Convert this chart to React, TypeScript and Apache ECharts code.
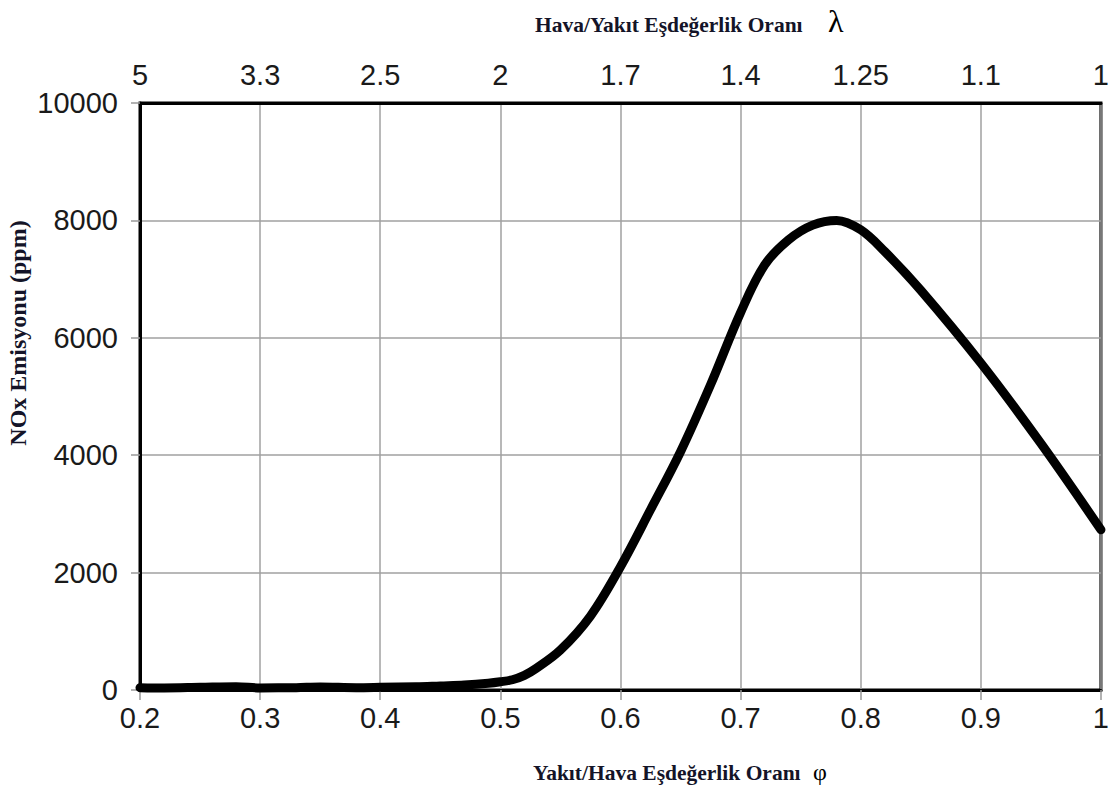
import React, { useEffect, useRef } from "react";
import * as echarts from "echarts";

const phi = [0.2, 0.22, 0.25, 0.28, 0.3, 0.33, 0.35, 0.38, 0.4, 0.43, 0.45, 0.47, 0.49, 0.5, 0.51, 0.52, 0.53, 0.55, 0.575, 0.6, 0.625, 0.65, 0.675, 0.7, 0.72, 0.74, 0.76, 0.78, 0.8, 0.82, 0.85, 0.9, 0.95, 1.0];
const nox = [40, 35, 45, 55, 35, 40, 50, 40, 45, 55, 70, 85, 115, 140, 175, 250, 370, 680, 1260, 2100, 3070, 4060, 5200, 6430, 7240, 7670, 7920, 8000, 7840, 7470, 6810, 5570, 4200, 2730];

const bottomTicks = [0.2, 0.3, 0.4, 0.5, 0.6, 0.7, 0.8, 0.9, 1.0];
const lambdaLabels = ["5", "3.3", "2.5", "2", "1.7", "1.4", "1.25", "1.1", "1"];

const xTitle = "Yakıt/Hava Eşdeğerlik Oranı";
const topTitle = "Hava/Yakıt Eşdeğerlik Oranı";
const yTitle = "NOx Emisyonu (ppm)";

export default function App() {
  const ref = useRef<HTMLDivElement>(null);
  useEffect(() => {
    document.body.style.margin = "0";
    const chart = echarts.init(ref.current!, null, { renderer: "svg" });
    const labelFont = { fontFamily: "Liberation Sans", fontSize: 29, color: "#1a1a1a" };
    const titleFont = { fontFamily: "Liberation Serif", fontWeight: "bold" as const, fontSize: 21.5, fill: "#141428" };
    const lambdaIndex = (v: number) => {
      const i = bottomTicks.findIndex((t) => Math.abs(t - v) < 1e-6);
      return i >= 0 ? lambdaLabels[i] : "";
    };
    chart.setOption({
      animation: false,
      backgroundColor: "#ffffff",
      grid: {
        left: 140,
        right: 9,
        top: 103,
        bottom: 99,
        show: true,
        borderColor: "#000",
        borderWidth: 3,
        backgroundColor: "transparent",
      },
      xAxis: [
        {
          type: "value",
          position: "bottom",
          min: 0.2,
          max: 1.0,
          interval: 0.1,
          axisLine: { show: true, lineStyle: { color: "#000", width: 3 } },
          axisTick: { show: true, length: 10, lineStyle: { color: "#999", width: 1.5 } },
          splitLine: { show: true, lineStyle: { color: "#a0a0a0", width: 1.5 } },
          axisLabel: {
            ...labelFont,
            margin: 13,
            formatter: (v: number) => {
              const r = Math.round(v * 10) / 10;
              return r === 1 ? "1" : String(r);
            },
          },
        },
        {
          type: "value",
          position: "top",
          min: 0.2,
          max: 1.0,
          interval: 0.1,
          axisLine: { show: true, lineStyle: { color: "#000", width: 3 } },
          axisTick: { show: false },
          splitLine: { show: false },
          axisLabel: {
            ...labelFont,
            margin: 14,
            formatter: (v: number) => lambdaIndex(Math.round(v * 10) / 10),
          },
        },
      ],
      yAxis: {
        type: "value",
        min: 0,
        max: 10000,
        interval: 2000,
        axisLine: { show: true, lineStyle: { color: "#000", width: 3 } },
        axisTick: { show: true, length: 9, lineStyle: { color: "#999", width: 1.5 } },
        splitLine: { show: true, lineStyle: { color: "#a0a0a0", width: 1.5 } },
        axisLabel: { ...labelFont, margin: 22, formatter: (v: number) => String(v) },
      },
      series: [
        {
          type: "line",
          xAxisIndex: 0,
          data: phi.map((p, i) => [p, nox[i]]),
          smooth: 0.35,
          showSymbol: false,
          lineStyle: { color: "#000", width: 9, cap: "round", join: "round" },
          clip: false,
        },
      ],
      graphic: [
        {
          type: "text",
          x: 535,
          y: 25,
          style: { text: topTitle, ...titleFont, verticalAlign: "middle" },
        },
        {
          type: "text",
          x: 828,
          y: 21,
          style: { text: "λ", fontFamily: "Liberation Serif", fontSize: 32, fill: "#000", verticalAlign: "middle" },
        },
        {
          type: "text",
          x: 533,
          y: 773,
          style: { text: xTitle, ...titleFont, verticalAlign: "middle" },
        },
        {
          type: "text",
          x: 813,
          y: 772,
          style: { text: "φ", fontFamily: "Liberation Serif", fontSize: 24, fill: "#000", verticalAlign: "middle" },
        },
        {
          type: "text",
          x: 18,
          y: 333,
          rotation: Math.PI / 2,
          style: { text: yTitle, ...titleFont, fontSize: 24, align: "center", verticalAlign: "middle" },
        },
      ],
    });
    return () => chart.dispose();
  }, []);
  return <div ref={ref} style={{ width: 1112, height: 789 }} />;
}
